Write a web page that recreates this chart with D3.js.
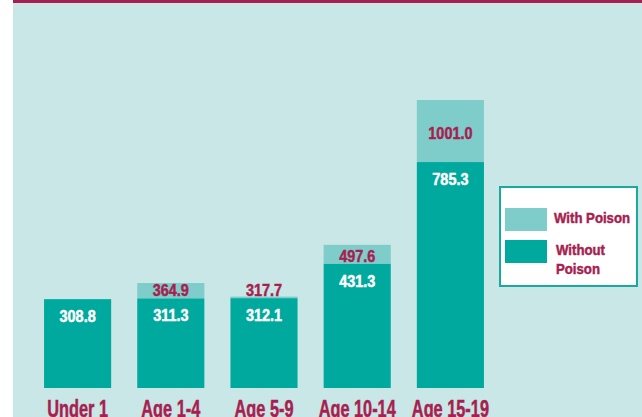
<!DOCTYPE html>
<html>
<head>
<meta charset="utf-8">
<script src="https://cdn.jsdelivr.net/npm/d3@7"></script>
<style>
  body { margin: 0; background: #fff; }
  svg { display: block; }
  text { font-family: "Liberation Sans", Arial, sans-serif; font-weight: bold; stroke-width: 0.5; paint-order: stroke; }
</style>
</head>
<body>
<svg id="chart" width="642" height="417"></svg>
<script>
// rates per age group
var ageGroups = ["Under 1", "Age 1-4", "Age 5-9", "Age 10-14", "Age 15-19"];
var withoutPoison = [308.8, 311.3, 312.1, 431.3, 785.3];
var withPoison = [null, 364.9, 317.7, 497.6, 1001.0];
var legendLabels = [["With Poison"], ["Without", "Poison"]];

var crimson = "#a61f50",
    dark = "#00a99d",
    light = "#7fcdca",
    bg = "#c9e7e6";

var svg = d3.select("#chart");

// background panel + top rule
svg.append("rect").attr("x", 13).attr("y", 0).attr("width", 629).attr("height", 417).attr("fill", bg);
svg.append("rect").attr("x", 13).attr("y", 0).attr("width", 629).attr("height", 3).attr("fill", crimson);

var x = d3.scaleBand()
  .domain(ageGroups)
  .range([31, 497])
  .paddingInner(0.28)
  .paddingOuter(0.14);

var y = d3.scaleLinear()
  .domain([0, 1001])
  .range([388, 100]);

var data = ageGroups.map(function (g, i) {
  return {group: g, without: withoutPoison[i], withP: withPoison[i]};
});

var bars = svg.append("g").selectAll("g")
  .data(data)
  .enter().append("g");

// light top segment (with poison total)
bars.filter(function (d) { return d.withP != null; })
  .append("rect")
  .attr("x", function (d) { return x(d.group); })
  .attr("width", x.bandwidth())
  .attr("y", function (d) { return y(d.withP); })
  .attr("height", function (d) { return y(d.without) - y(d.withP); })
  .attr("fill", light);

bars.append("rect")
  .attr("x", function (d) { return x(d.group); })
  .attr("width", x.bandwidth())
  .attr("y", function (d) { return y(d.without); })
  .attr("height", function (d) { return y(0) - y(d.without); })
  .attr("fill", dark);

function cx(d) { return x(d.group) + x.bandwidth() / 2; }

bars.append("text")
  .attr("transform", function (d) {
    return "translate(" + cx(d) + "," + (y(d.without) + 23) + ") scale(0.85,1)";
  })
  .attr("text-anchor", "middle")
  .attr("font-size", 17)
  .attr("fill", "#fff")
  .attr("stroke", "#fff")
  .text(function (d) { return d.without.toFixed(1); });

bars.filter(function (d) { return d.withP != null; })
  .append("text")
  .attr("transform", function (d) {
    var mid = (y(d.withP) + y(d.without)) / 2;
    var by = Math.min(mid + 8, y(d.without) - 2);
    return "translate(" + cx(d) + "," + by + ") scale(0.85,1)";
  })
  .attr("text-anchor", "middle")
  .attr("font-size", 17)
  .attr("fill", crimson)
  .attr("stroke", crimson)
  .text(function (d) { return d.withP.toFixed(1); });

// category labels (squeezed to mimic the condensed face)
svg.append("g").selectAll("text")
  .data(ageGroups)
  .enter().append("text")
  .attr("transform", function (d) {
    return "translate(" + (x(d) + x.bandwidth() / 2) + ",417) scale(0.71,1)";
  })
  .attr("text-anchor", "middle")
  .attr("font-size", 23)
  .attr("fill", crimson)
  .attr("stroke", crimson)
  .text(function (d) { return d; });

// legend
var legend = svg.append("g");
legend.append("rect")
  .attr("x", 500).attr("y", 187).attr("width", 137).attr("height", 99)
  .attr("fill", "#fff").attr("stroke", "#19a99e").attr("stroke-width", 2);

var items = legend.selectAll("g.item")
  .data(legendLabels)
  .enter().append("g")
  .attr("class", "item")
  .attr("transform", function (d, i) { return "translate(505," + (208 + i * 32) + ")"; });

items.append("rect")
  .attr("width", 42).attr("height", 23)
  .attr("fill", function (d, i) { return i === 0 ? light : dark; });

items.append("g")
  .attr("transform", function (d, i) { return "translate(" + (i === 0 ? 49 : 51) + ",0) scale(0.88,1)"; })
  .append("text")
  .attr("font-size", 15)
  .attr("fill", crimson)
  .attr("stroke", crimson)
  .selectAll("tspan")
  .data(function (d) { return d; })
  .enter().append("tspan")
  .attr("x", 0)
  .attr("y", function (d, i, nodes) { return nodes.length > 1 ? 15 + i * 19 : 15; })
  .text(function (d) { return d; });
</script>
</body>
</html>
